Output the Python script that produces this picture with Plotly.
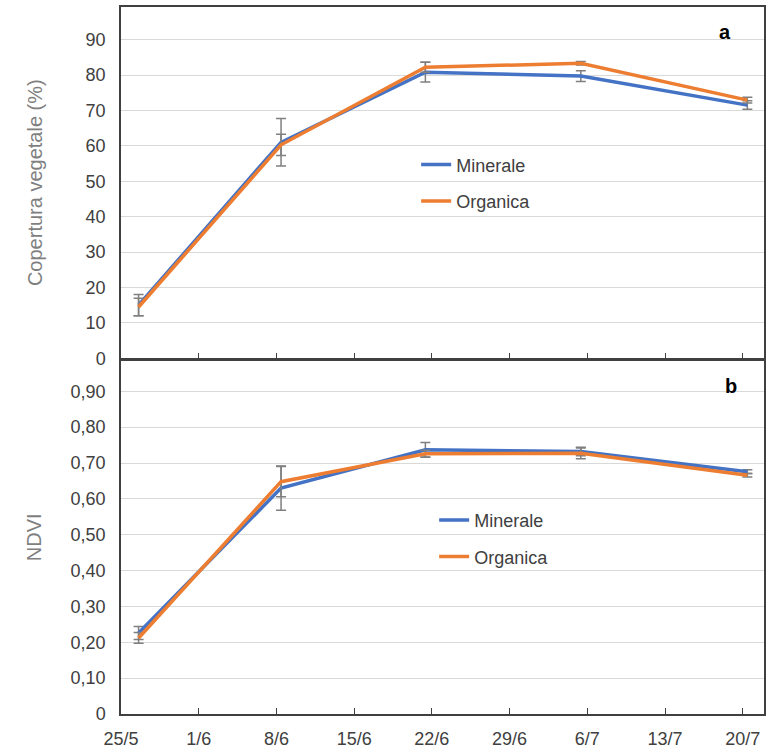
import plotly.graph_objects as go

dates = ["2020-05-26 14:00", "2020-06-08 10:00", "2020-06-21 10:00", "2020-07-05 10:00", "2020-07-20 10:00"]
tick_dates = ["2020-05-25", "2020-06-01", "2020-06-08", "2020-06-15", "2020-06-22",
              "2020-06-29", "2020-07-06", "2020-07-13", "2020-07-20"]
tick_labels = ["25/5", "1/6", "8/6", "15/6", "22/6", "29/6", "6/7", "13/7", "20/7"]

cov_min = [15.0, 61.0, 80.8, 79.7, 71.5]
cov_min_err = [3.0, 6.7, 2.8, 1.5, 1.2]
cov_org = [14.5, 60.3, 82.2, 83.3, 72.9]
cov_org_err = [2.5, 3.0, 1.4, 0.5, 0.8]

ndvi_min = [0.226, 0.630, 0.737, 0.732, 0.676]
ndvi_min_err = [0.018, 0.062, 0.02, 0.012, 0.005]
ndvi_org = [0.212, 0.648, 0.726, 0.727, 0.666]
ndvi_org_err = [0.015, 0.042, 0.01, 0.015, 0.005]

cov_ticks = [0, 10, 20, 30, 40, 50, 60, 70, 80, 90]
ndvi_ticks = [0, 0.1, 0.2, 0.3, 0.4, 0.5, 0.6, 0.7, 0.8, 0.9]
ndvi_tick_labels = ["0", "0,10", "0,20", "0,30", "0,40", "0,50", "0,60", "0,70", "0,80", "0,90"]

BLUE = "#4472C4"
ORANGE = "#ED7D31"
ERR = "#7F7F7F"
FONT = "Liberation Sans, Arial, sans-serif"

fig = go.Figure()

def err(vals):
    return dict(type="data", array=vals, visible=True, color=ERR, thickness=1.5, width=5)

fig.add_trace(go.Scatter(x=dates, y=cov_min, error_y=err(cov_min_err), mode="lines",
                         line=dict(color=BLUE, width=3.5), name="Minerale",
                         xaxis="x", yaxis="y", legend="legend", legendgroup="a1"))
fig.add_trace(go.Scatter(x=dates, y=cov_org, error_y=err(cov_org_err), mode="lines",
                         line=dict(color=ORANGE, width=3.5), name="Organica",
                         xaxis="x", yaxis="y", legend="legend", legendgroup="a2"))
fig.add_trace(go.Scatter(x=dates, y=ndvi_min, error_y=err(ndvi_min_err), mode="lines",
                         line=dict(color=BLUE, width=3.5), name="Minerale",
                         xaxis="x2", yaxis="y2", legend="legend2", legendgroup="b1"))
fig.add_trace(go.Scatter(x=dates, y=ndvi_org, error_y=err(ndvi_org_err), mode="lines",
                         line=dict(color=ORANGE, width=3.5), name="Organica",
                         xaxis="x2", yaxis="y2", legend="legend2", legendgroup="b2"))

xrange = ["2020-05-25", "2020-07-21 22:00"]
axline = dict(showline=True, linecolor="#404040", linewidth=1.5, mirror=True)

fig.update_layout(
    width=767, height=752,
    margin=dict(l=121, r=3, t=7, b=38, autoexpand=False),
    paper_bgcolor="white", plot_bgcolor="white",
    font=dict(family=FONT, size=16, color="#404040"),
    xaxis=dict(type="date", range=xrange, domain=[0, 1], anchor="y",
               tickvals=tick_dates, ticktext=tick_labels, showticklabels=False,
               ticks="inside", ticklen=6, tickcolor="#404040", showgrid=False, **axline),
    yaxis=dict(domain=[0.503, 1], range=[0, 99.2], tickvals=cov_ticks,
               ticks="", showgrid=True, gridcolor="#D9D9D9", gridwidth=1, ticklabelstandoff=10,
               title=dict(text="Copertura vegetale (%)", font=dict(size=20, color="#7F7F7F"), standoff=38),
               tickfont=dict(size=18, color="#404040"), zeroline=False, **axline),
    xaxis2=dict(type="date", range=xrange, domain=[0, 1], anchor="y2",
                tickvals=tick_dates, ticktext=tick_labels, showticklabels=True,
                tickfont=dict(size=18, color="#404040"), ticklabelstandoff=8,
                ticks="inside", ticklen=6, tickcolor="#404040", showgrid=False, **axline),
    yaxis2=dict(domain=[0, 0.5], range=[0, 0.986], tickvals=ndvi_ticks, ticktext=ndvi_tick_labels,
                ticks="", showgrid=True, gridcolor="#D9D9D9", gridwidth=1, ticklabelstandoff=10,
                title=dict(text="NDVI", font=dict(size=20, color="#7F7F7F"), standoff=24),
                tickfont=dict(size=18, color="#404040"), zeroline=False, **axline),
    legend=dict(x=0.459, y=0.803, xanchor="left", yanchor="top", bgcolor="rgba(0,0,0,0)",
                font=dict(size=18, color="#404040"), traceorder="grouped", tracegroupgap=10),
    legend2=dict(x=0.487, y=0.300, xanchor="left", yanchor="top", bgcolor="rgba(0,0,0,0)",
                 font=dict(size=18, color="#404040"), traceorder="grouped", tracegroupgap=10),
    annotations=[
        dict(text="<b>a</b>", x=0.94, y=0.964, xref="paper", yref="paper", showarrow=False,
             font=dict(size=20, color="black"), xanchor="center", yanchor="middle"),
        dict(text="<b>b</b>", x=0.948, y=0.464, xref="paper", yref="paper", showarrow=False,
             font=dict(size=20, color="black"), xanchor="center", yanchor="middle"),
    ],
)

fig.write_html("out.html", config={"displayModeBar": False},
               post_script="document.body.style.margin='0';document.body.style.overflow='hidden';")
